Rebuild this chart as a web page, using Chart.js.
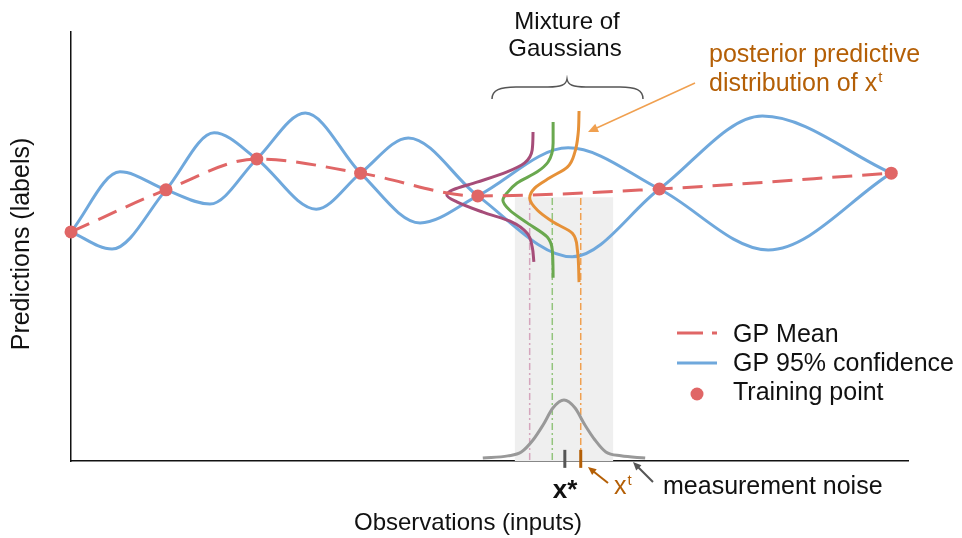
<!DOCTYPE html>
<html>
<head>
<meta charset="utf-8">
<script src="https://cdn.jsdelivr.net/npm/chart.js@4.4.1/dist/chart.umd.min.js"></script>
<style>
  html, body { margin: 0; padding: 0; background: #fff; }
</style>
</head>
<body>
<canvas id="gp" width="962" height="538"></canvas>
<script>
/* GP regression sketch — mean, 95% band, mixture of gaussians */

// training points
const trainX = [0, 11.35, 22.2, 34.6, 48.6, 70.3, 98.0];
const trainY = [53.4, 63.2, 70.4, 67.1, 61.8, 63.4, 67.1];

// the two confidence curves (they cross at every training point)
const confAX = [0, 5.85, 11.35, 16.6, 22.2, 28.0, 34.6, 41.7, 48.6, 59.4, 70.3, 83.3, 98.0];
const confAY = [53.4, 67.4, 63.2, 59.9, 70.4, 81.1, 67.1, 55.5, 61.8, 73.0, 63.4, 49.2, 67.1];
const confBX = [0, 4.9, 11.35, 17.1, 22.2, 29.3, 34.6, 40.3, 48.6, 59.9, 70.3, 82.6, 98.0];
const confBY = [53.4, 49.4, 63.2, 76.5, 70.4, 58.7, 67.1, 75.3, 61.8, 47.6, 63.4, 80.4, 67.1];

// sideways gaussians (mixture components)
const purpleX = [55.2, 55.1, 54.2, 52.1, 48.5, 45.6, 44.9, 46.1, 49.2, 52.7, 54.5, 55.1, 55.3];
const purpleY = [76.7, 72.5, 69.5, 67.4, 65.0, 63.2, 62.0, 60.4, 58.0, 55.7, 53.1, 49.9, 46.4];
const greenX = [57.6, 57.6, 57.0, 55.7, 53.3, 52.1, 51.6, 52.4, 54.5, 56.9, 57.5, 57.6];
const greenY = [79.0, 74.1, 69.7, 67.4, 64.8, 62.5, 60.8, 58.5, 55.5, 52.2, 49.2, 42.7];
const orangeX = [60.7, 60.6, 60.2, 59.3, 57.2, 55.4, 54.8, 55.7, 57.6, 59.9, 60.5, 60.7];
const orangeY = [81.6, 76.5, 72.0, 68.5, 66.0, 63.6, 61.3, 58.5, 55.7, 53.1, 49.2, 41.7];

// measurement noise on the input
const noiseX = [49.2, 52.2, 53.8, 55.2, 56.4, 57.6, 58.9, 60.2, 61.4, 62.6, 63.9, 65.7, 68.6];
const noiseY = [0.7, 1.2, 2.1, 4.9, 8.4, 12.4, 14.2, 12.4, 8.4, 4.9, 2.1, 1.2, 0.7];

// shaded input region, guide lines, x* / x^t ticks
const bandX = [53.0, 64.8];
const bandTop = 61.5;
const guideX = [54.8, 57.5, 60.9];
const guideTop = 61.3;
const tickX = [59.0, 60.9];
const tickY = [2.6, -1.6];

const FONT = "'Liberation Sans', Arial, sans-serif";
const C = {
  red: '#e06666',
  blue: '#6fa8dc',
  purple: '#a64d79',
  green: '#6aa84f',
  orange: '#e69138',
  grey: '#999999',
  band: '#efefef',
  textOrange: '#b45f06'
};

const pts = (xs, ys) => xs.map((x, i) => ({ x: x, y: ys[i] }));

function curve(xs, ys, color, order, extra) {
  return Object.assign({
    data: pts(xs, ys),
    borderColor: color,
    borderWidth: 3,
    pointRadius: 0,
    fill: false,
    cubicInterpolationMode: 'monotone',
    order: order
  }, extra || {});
}

const datasets = [
  // training points on top
  {
    data: pts(trainX, trainY),
    showLine: false,
    pointRadius: 6.5,
    pointBackgroundColor: C.red,
    pointBorderWidth: 0,
    order: 0,
    clip: false
  },
  curve(trainX, trainY, C.red, 1, { borderDash: [20, 10] }),
  curve(purpleX, purpleY, C.purple, 2, { indexAxis: 'y' }),
  curve(greenX, greenY, C.green, 2, { indexAxis: 'y' }),
  curve(orangeX, orangeY, C.orange, 2, { indexAxis: 'y' }),
  curve(confAX, confAY, C.blue, 3),
  curve(confBX, confBY, C.blue, 3),
  curve(noiseX, noiseY, C.grey, 3),
  curve([tickX[0], tickX[0]], tickY, '#555555', 2, { indexAxis: 'y', clip: false }),
  curve([tickX[1], tickX[1]], tickY, C.textOrange, 2, { indexAxis: 'y', clip: false })
];

// dash-dot guides under each component
const guideColors = ['#d5a6bd', '#93c47d', '#f0a050'];
guideX.forEach((gx, i) => {
  datasets.push(curve([gx, gx], [guideTop, 0], guideColors[i], 4, {
    indexAxis: 'y',
    borderWidth: 1.5,
    borderDash: [7, 3, 2, 3]
  }));
});

// grey input band
datasets.push({
  data: pts(bandX, [bandTop, bandTop]),
  borderWidth: 0,
  pointRadius: 0,
  fill: 'origin',
  backgroundColor: C.band,
  order: 9
});

function arrow(ctx, x1, y1, x2, y2, color, w, head) {
  const a = Math.atan2(y2 - y1, x2 - x1);
  ctx.strokeStyle = color;
  ctx.fillStyle = color;
  ctx.lineWidth = w;
  ctx.beginPath();
  ctx.moveTo(x1, y1);
  ctx.lineTo(x2 - Math.cos(a) * head * 0.7, y2 - Math.sin(a) * head * 0.7);
  ctx.stroke();
  ctx.beginPath();
  ctx.moveTo(x2, y2);
  ctx.lineTo(x2 - head * Math.cos(a - 0.42), y2 - head * Math.sin(a - 0.42));
  ctx.lineTo(x2 - head * Math.cos(a + 0.42), y2 - head * Math.sin(a + 0.42));
  ctx.closePath();
  ctx.fill();
}

function text(ctx, s, x, y, size, color, align, bold) {
  ctx.font = (bold ? 'bold ' : '') + size + 'px ' + FONT;
  ctx.fillStyle = color;
  ctx.textAlign = align || 'left';
  ctx.textBaseline = 'alphabetic';
  ctx.fillText(s, x, y);
  return ctx.measureText(s).width;
}

const notes = {
  id: 'notes',
  afterDraw(chart) {
    const ctx = chart.ctx;
    ctx.save();

    // axis titles
    text(ctx, 'Observations (inputs)', 354, 530, 24, '#111');
    ctx.save();
    ctx.translate(29, 244);
    ctx.rotate(-Math.PI / 2);
    text(ctx, 'Predictions (labels)', 0, 0, 25, '#111', 'center');
    ctx.restore();

    // mixture label + brace
    text(ctx, 'Mixture of', 567, 29, 24, '#111', 'center');
    text(ctx, 'Gaussians', 565, 56, 24, '#111', 'center');
    ctx.strokeStyle = '#555';
    ctx.lineWidth = 1.5;
    ctx.beginPath();
    ctx.moveTo(492, 99);
    ctx.bezierCurveTo(492, 90, 500, 87, 516, 87);
    ctx.lineTo(548, 87);
    ctx.bezierCurveTo(561, 87, 566, 85, 567, 79);
    ctx.bezierCurveTo(568, 85, 573, 87, 586, 87);
    ctx.lineTo(620, 87);
    ctx.bezierCurveTo(636, 87, 643, 90, 643, 99);
    ctx.stroke();

    // posterior predictive label
    text(ctx, 'posterior predictive', 709, 62, 25, C.textOrange);
    const w = text(ctx, 'distribution of x', 709, 91, 25, C.textOrange);
    text(ctx, 't', 709 + w + 1, 82, 15, C.textOrange);
    arrow(ctx, 695, 83, 588, 132, '#f0a050', 1.5, 11);

    // x*, x^t, measurement noise
    text(ctx, 'x*', 565, 498, 26, '#111', 'center', true);
    const wx = text(ctx, 'x', 614, 494, 25, C.textOrange);
    text(ctx, 't', 614 + wx + 1, 485, 15, C.textOrange);
    arrow(ctx, 608, 483, 588, 467, C.textOrange, 2, 9);
    text(ctx, 'measurement noise', 663, 494, 25, '#111');
    arrow(ctx, 653, 482, 633, 462, '#555', 2, 9);

    // legend
    ctx.lineWidth = 3;
    ctx.strokeStyle = C.red;
    ctx.beginPath();
    ctx.moveTo(677, 333); ctx.lineTo(703, 333);
    ctx.moveTo(712, 333); ctx.lineTo(717, 333);
    ctx.stroke();
    text(ctx, 'GP Mean', 733, 342, 25, '#111');
    ctx.strokeStyle = C.blue;
    ctx.beginPath();
    ctx.moveTo(677, 363); ctx.lineTo(717, 363);
    ctx.stroke();
    text(ctx, 'GP 95% confidence', 733, 371, 25, '#111');
    ctx.fillStyle = C.red;
    ctx.beginPath();
    ctx.arc(697, 394, 6.5, 0, Math.PI * 2);
    ctx.fill();
    text(ctx, 'Training point', 733, 400, 25, '#111');

    ctx.restore();
  }
};

const axis = {
  type: 'linear',
  min: 0,
  max: 100,
  ticks: { display: false },
  grid: { display: false, drawTicks: false },
  border: { display: true, color: '#111', width: 1.5 }
};

new Chart(document.getElementById('gp').getContext('2d'), {
  type: 'line',
  data: { datasets: datasets },
  options: {
    responsive: false,
    animation: false,
    layout: { padding: { left: 71, right: 54, top: 32, bottom: 77 } },
    plugins: {
      legend: { display: false },
      tooltip: { enabled: false }
    },
    scales: {
      x: Object.assign({}, axis),
      y: Object.assign({}, axis)
    }
  },
  plugins: [notes]
});
</script>
</body>
</html>
